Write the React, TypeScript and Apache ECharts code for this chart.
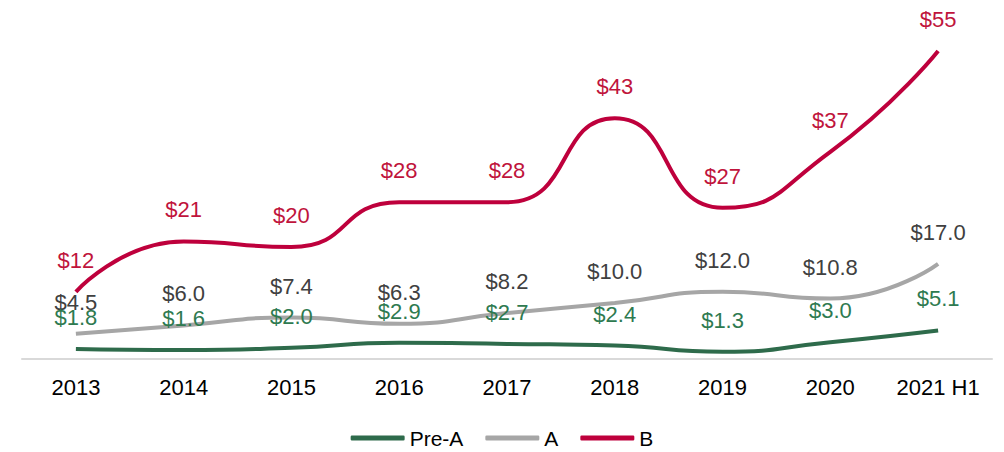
import React, { useEffect, useRef } from "react";
import * as echarts from "echarts";

const categories = ["2013", "2014", "2015", "2016", "2017", "2018", "2019", "2020", "2021 H1"];
const preA = [1.8, 1.6, 2.0, 2.9, 2.7, 2.4, 1.3, 3.0, 5.1];
const seriesA = [4.5, 6.0, 7.4, 6.3, 8.2, 10.0, 12.0, 10.8, 17.0];
const seriesB = [12, 21, 20, 28, 28, 43, 27, 37, 55];

const FONT = "'Liberation Sans', Arial, sans-serif";

export default function App() {
  const ref = useRef<HTMLDivElement>(null);
  useEffect(() => {
    if (!ref.current) return;
    const chart = echarts.init(ref.current, null, { renderer: "svg" });
    const mk = (name: string, data: number[], color: string, labelColor: string, decimals: number, z: number) => ({
      name,
      type: "line",
      data,
      smooth: 0.55,
      symbol: "circle",
      symbolSize: 1,
      showSymbol: true,
      z,
      lineStyle: { color, width: 4 },
      itemStyle: { color: "rgba(0,0,0,0)", borderWidth: 0 },
      label: {
        show: true,
        position: "top",
        distance: 20,
        color: labelColor,
        fontSize: 22,
        fontFamily: FONT,
        formatter: (p: any) => "$" + Number(p.value).toFixed(decimals),
      },
    });
    chart.setOption({
      animation: false,
      grid: { left: 22, right: 12, top: 23, bottom: 93 },
      xAxis: {
        type: "category",
        data: categories,
        boundaryGap: true,
        axisLine: { lineStyle: { color: "#D9D9D9", width: 2 } },
        axisTick: { show: false },
        axisLabel: { color: "#000", fontSize: 22, fontFamily: FONT, margin: 17, interval: 0 },
      },
      yAxis: {
        type: "value",
        min: 0,
        max: 60,
        show: false,
        splitLine: { show: false },
      },
      legend: {
        top: 424,
        left: "center",
        padding: 2,
        itemWidth: 54,
        itemHeight: 5,
        itemGap: 22,
        icon: "roundRect",
        textStyle: { color: "#000", fontSize: 21, fontFamily: FONT, lineHeight: 24 },
        data: [
          { name: "Pre-A", itemStyle: { color: "#2E6B4B", opacity: 1 } },
          { name: "A", itemStyle: { color: "#A6A6A6", opacity: 1 } },
          { name: "B", itemStyle: { color: "#BE003C", opacity: 1 } },
        ],
      },
      series: [
        mk("Pre-A", preA, "#2E6B4B", "#2E7A50", 1, 3),
        mk("A", seriesA, "#A6A6A6", "#404040", 1, 2),
        mk("B", seriesB, "#BE003C", "#C0143C", 0, 1),
      ],
    });
    return () => chart.dispose();
  }, []);
  return <div ref={ref} style={{ width: 1004, height: 452, position: "absolute", left: 0, top: 0 }} />;
}
